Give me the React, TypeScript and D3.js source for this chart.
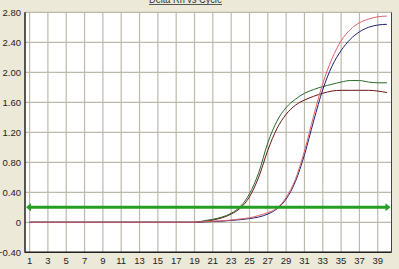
import React from "react";
import * as d3 from "d3";

const cycles = d3.range(1, 41);
const yTicks = [-0.4, 0, 0.4, 0.8, 1.2, 1.6, 2.0, 2.4, 2.8];
const xTicks = d3.range(1, 40, 2);
const threshold = 0.2;

const zeros19 = new Array(19).fill(0);
const greenVals = [...zeros19, 0.02, 0.04, 0.07, 0.12, 0.21, 0.38, 0.66, 1.06, 1.35, 1.53, 1.64, 1.72, 1.77, 1.81, 1.84, 1.87, 1.89, 1.89, 1.87, 1.86, 1.86];
const maroonVals = [...zeros19, 0.01, 0.03, 0.06, 0.11, 0.19, 0.34, 0.6, 0.96, 1.25, 1.44, 1.56, 1.63, 1.68, 1.72, 1.75, 1.76, 1.76, 1.76, 1.76, 1.75, 1.73];
const pinkVals = [...zeros19, 0.01, 0.015, 0.02, 0.03, 0.045, 0.06, 0.09, 0.13, 0.19, 0.33, 0.57, 0.95, 1.42, 1.85, 2.18, 2.42, 2.57, 2.66, 2.71, 2.74, 2.75];
const navyVals = [...zeros19, 0.005, 0.01, 0.015, 0.025, 0.035, 0.05, 0.07, 0.11, 0.18, 0.31, 0.54, 0.9, 1.35, 1.77, 2.08, 2.29, 2.44, 2.54, 2.6, 2.63, 2.64];

const series = [
  { name: "maroon", color: "#6b1418", values: maroonVals },
  { name: "green", color: "#2a6a2a", values: greenVals },
  { name: "navy", color: "#20206e", values: navyVals },
  { name: "pink", color: "#e0606c", values: pinkVals },
];

export default function App() {
  const W = 399, H = 269;
  const x = d3.scaleLinear().domain([0.5, 40.5]).range([25, 391.5]);
  const y = d3.scaleLinear().domain([-0.4, 2.8]).range([252.3, 12.3]);
  const line = d3.line<number>().x((_, i) => x(cycles[i])).y((d) => y(d)).curve(d3.curveMonotoneX);
  const font = "'Liberation Sans', Arial, sans-serif";
  const ty = y(threshold);
  return (
    <svg width={W} height={H} style={{ position: "absolute", left: 0, top: 0 }}>
      <rect x={0} y={0} width={W} height={H} fill="#ece9d8" />
      <rect x={x(0.5)} y={y(2.8)} width={x(40.5) - x(0.5)} height={y(-0.4) - y(2.8)} fill="#fff" />
      {xTicks.map((t) => (
        <line key={"vx" + t} x1={x(t)} x2={x(t)} y1={y(2.8)} y2={y(-0.4)} stroke="#bdb9ab" strokeWidth={1.2} />
      ))}
      {yTicks.map((t) => (
        <line key={"hy" + t} x1={x(0.5)} x2={x(40.5)} y1={y(t)} y2={y(t)} stroke="#bdb9ab" strokeWidth={1.2} />
      ))}
      {series.map((s) => (
        <path key={s.name} d={line(s.values) || ""} fill="none" stroke={s.color} strokeWidth={1} />
      ))}
      <line x1={x(0.5) + 3} x2={x(40.5) - 3} y1={ty} y2={ty} stroke="#23a023" strokeWidth={3} />
      <path d={`M${x(0.5) + 1},${ty} L${x(0.5) + 6},${ty - 4} L${x(0.5) + 6},${ty + 4} Z`} fill="#23a023" />
      <path d={`M${x(40.5) - 1},${ty} L${x(40.5) - 6},${ty - 4} L${x(40.5) - 6},${ty + 4} Z`} fill="#23a023" />
      <line x1={x(0.5)} x2={x(0.5)} y1={y(2.8)} y2={y(-0.4) + 0.5} stroke="#222" strokeWidth={1.5} />
      <line x1={x(0.5)} x2={x(40.5)} y1={y(-0.4)} y2={y(-0.4)} stroke="#222" strokeWidth={1.5} />
      <line x1={x(40.5)} x2={x(40.5)} y1={y(2.8)} y2={y(-0.4)} stroke="#444" strokeWidth={1} />
      {yTicks.map((t) => (
        <text key={"ly" + t} x={21} y={y(t) + 3.5} textAnchor="end" fontFamily={font} fontSize={9.5} fill="#222">
          {t === 0 ? "0" : d3.format(".2f")(t)}
        </text>
      ))}
      {xTicks.map((t) => (
        <text key={"lx" + t} x={x(t)} y={264} textAnchor="middle" fontFamily={font} fontSize={9.5} fill="#222">
          {t}
        </text>
      ))}
      <text x={185.5} y={3} textAnchor="middle" fontFamily={font} fontSize={10} fill="#333" textLength={73} lengthAdjust="spacingAndGlyphs">
        Delta Rn vs Cycle
      </text>
      <line x1={149} x2={222} y1={4.5} y2={4.5} stroke="#555" strokeWidth={1} />
    </svg>
  );
}
